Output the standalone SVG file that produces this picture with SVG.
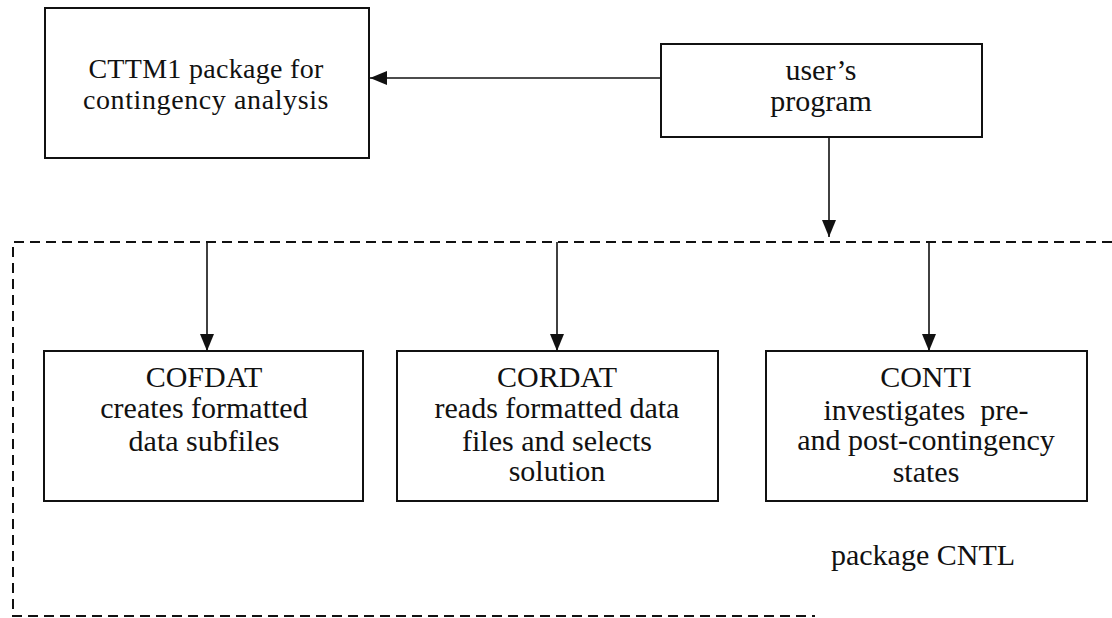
<svg xmlns="http://www.w3.org/2000/svg" width="1112" height="618" viewBox="0 0 1112 618">
<style>
.box{fill:#fff;stroke:#111;stroke-width:2}
.t{font-family:"Liberation Serif","Times New Roman",serif;font-size:30px;fill:#111;text-anchor:middle}
.s{font-size:28px}
.c{stroke:#111;stroke-width:1.6;fill:none}
.d{stroke:#111;stroke-width:2;fill:none;stroke-dasharray:10 6}
</style>
<defs>
<marker id="ah" viewBox="0 0 17 14" refX="17" refY="7" markerWidth="17" markerHeight="14" markerUnits="userSpaceOnUse" orient="auto">
<path d="M0,0 L17,7 L0,14 Z" fill="#111"/>
</marker>
</defs>
<g id="package-cntl">
<path class="d" d="M1112,242 H13 V616 H815"/>
<text class="t" x="923" y="565">package CNTL</text>
</g>
<g id="cttm1">
<rect class="box" x="45" y="8" width="324" height="150"/>
<text class="t s" x="206" y="78" letter-spacing="0.3">CTTM1 package for</text>
<text class="t s" x="206" y="109" letter-spacing="0.6">contingency analysis</text>
</g>
<g id="user">
<rect class="box" x="661" y="44" width="321" height="93"/>
<text class="t" x="821" y="80">user’s</text>
<text class="t" x="821" y="111">program</text>
</g>
<g id="cofdat">
<rect class="box" x="44" y="351" width="319" height="150"/>
<text class="t" x="204" y="387">COFDAT</text>
<text class="t" x="204" y="418">creates formatted</text>
<text class="t" x="204" y="451">data subfiles</text>
</g>
<g id="cordat">
<rect class="box" x="397" y="351" width="321" height="150"/>
<text class="t" x="557" y="387">CORDAT</text>
<text class="t" x="557" y="418">reads formatted data</text>
<text class="t" x="557" y="451">files and selects</text>
<text class="t" x="557" y="481">solution</text>
</g>
<g id="conti">
<rect class="box" x="766" y="351" width="321" height="150"/>
<text class="t" x="926" y="387">CONTI</text>
<text class="t" x="926" y="420" xml:space="preserve">investigates  pre-</text>
<text class="t" x="926" y="450">and post-contingency</text>
<text class="t" x="926" y="482">states</text>
</g>
<g id="connectors">
<line class="c" x1="661" y1="78" x2="370" y2="78" marker-end="url(#ah)"/>
<line class="c" x1="829" y1="137" x2="829" y2="237" marker-end="url(#ah)"/>
<line class="c" x1="207" y1="242" x2="207" y2="351" marker-end="url(#ah)"/>
<line class="c" x1="557" y1="242" x2="557" y2="351" marker-end="url(#ah)"/>
<line class="c" x1="929" y1="242" x2="929" y2="351" marker-end="url(#ah)"/>
</g>
</svg>
